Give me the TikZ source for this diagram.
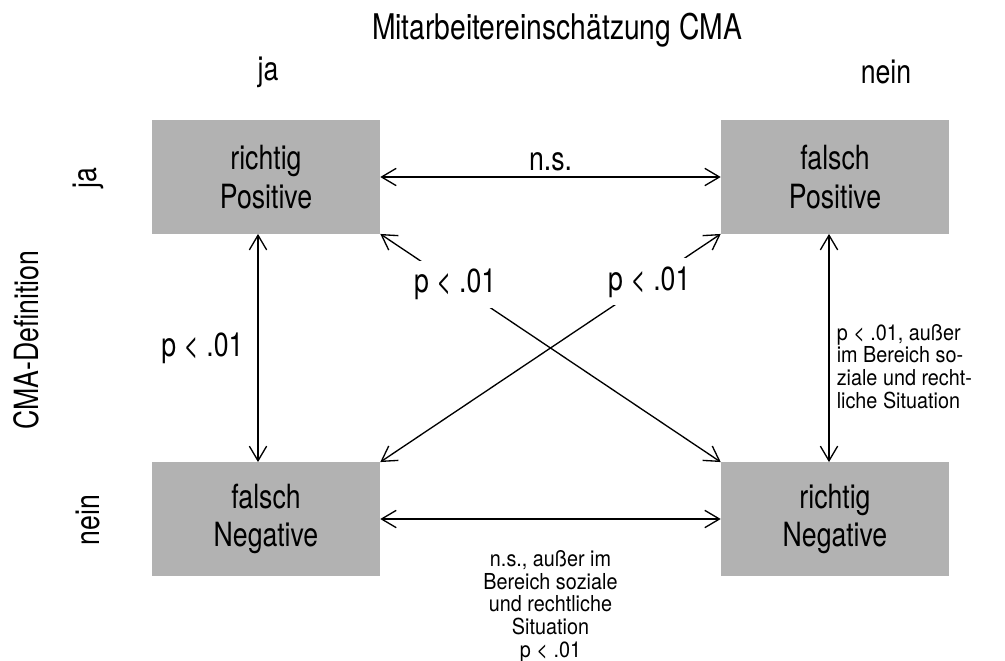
\documentclass[tikz,border=0pt]{standalone}
\usepackage{fontspec}
\setmainfont{TeX Gyre Heros}[FakeStretch=0.8]
\newfontfamily\notefont{TeX Gyre Heros}[FakeStretch=0.9]
\usetikzlibrary{arrows.meta,positioning}
\definecolor{cellgray}{RGB}{178,178,178}

\begin{document}
\begin{tikzpicture}[x=0.75pt,y=-0.75pt,>={Straight Barb[length=11pt,width=13pt]},
  cell/.style={fill=cellgray,minimum width=171pt,minimum height=85pt,inner sep=0pt,
    align=center,font=\fontsize{25}{29}\selectfont},
  lab/.style={font=\fontsize{25}{29}\selectfont},
  note/.style={font=\notefont\fontsize{16.5}{17}\selectfont},
  gap/.style={lab,fill=white,inner xsep=2pt,inner ysep=6pt}]
  \useasboundingbox (0,0) rectangle (1005,660);
  % headings
  \node[lab,font=\fontsize{26.5}{30}\selectfont] (title) at (557,30) {Mitarbeitereinschätzung CMA};
  \node[lab] (colja) at (268,72) {ja};
  \node[lab] (colnein) at (886,72) {nein};
  \node[lab,rotate=90] (defin) at (26,340) {CMA-Definition};
  \node[lab,rotate=90] (rowja) at (88,178) {ja};
  \node[lab,rotate=90] (rownein) at (88,520) {nein};
  % cells
  \node[cell] (tp) at (266,177) {richtig\\Positive};
  \node[cell] (fp) at (835,177) {falsch\\Positive};
  \node[cell] (fn) at (266,519) {falsch\\Negative};
  \node[cell] (tn) at (835,519) {richtig\\Negative};
  % comparisons
  \draw[<->,line width=1pt] (tp) -- node[lab,above=1pt] {n.s.} (fp);
  \draw[<->,line width=1pt] (fn) -- node[note,below=22pt,align=center,inner sep=1pt]
    {n.s., außer im\\Bereich soziale\\und rechtliche\\Situation\\p < .01} (tn);
  \draw[<->,line width=1pt] ([xshift=-6pt]tp.south) -- node[lab,left=7pt] {p < .01} ([xshift=-6pt]fn.north);
  \draw[<->,line width=1pt] ([xshift=-4.5pt]fp.south) -- node[note,pos=.58,right=2pt,align=left]
    {p < .01, außer\\im Bereich so-\\ziale und recht-\\liche Situation} ([xshift=-4.5pt]tn.north);
  \draw[<->,line width=1pt] (tp.south east) -- node[gap,pos=.22] {p < .01} (tn.north west);
  \draw[<->,line width=1pt] (fn.north east) -- node[gap,pos=.79] {p < .01} (fp.south west);
\end{tikzpicture}
\end{document}
